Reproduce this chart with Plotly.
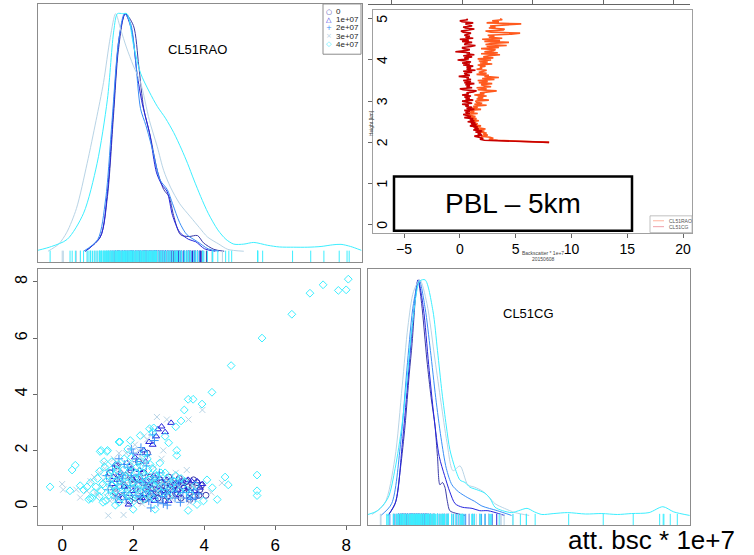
import plotly.graph_objects as go

W, H = 754, 555

SERIES = ["0", "1e+07", "2e+07", "3e+07", "4e+07"]
COLORS = ["#3B3BA8", "#2424DC", "#3A8EF6", "#B8D4E6", "#3CEEFF"]
SYMBOLS = ["circle-open", "triangle-up-open", "cross-thin-open", "x-thin-open", "diamond-open"]
LEGEND_GLYPHS = ["○", "△", "+", "×", "◇"]

# ---- scatter (CL51RAO on x, CL51CG on y), att. bsc * 1e+7 ----
S0_X = [1.35, 1.48, 1.55, 1.62, 1.7, 1.78, 1.84, 1.93, 2.0, 2.06, 2.12, 2.2, 2.27, 2.33, 2.41, 2.48, 2.55, 2.62, 2.7, 2.76,
        2.83, 2.9, 2.97, 3.05, 3.12, 3.2, 3.27, 3.35, 3.43, 3.5, 3.58, 3.66, 3.74, 3.8, 3.88, 3.92, 4.05, 2.15, 2.4, 1.9,
        2.2, 2.35, 2.5, 2.65, 2.8, 2.95, 3.1, 3.25, 3.4, 3.55, 3.7, 3.85, 3.6, 3.0, 2.6, 2.3, 1.95, 1.75, 1.6, 1.5,
        3.3, 2.9, 2.45, 3.15, 2.7]
S0_Y = [1.2, 0.65, 1.45, 0.9, 0.35, 1.1, 0.6, 1.3, 0.8, 0.3, 1.0, 0.55, 0.85, 0.25, 0.7, 1.05, 0.45, 0.8, 0.3, 0.95,
        0.55, 0.75, 0.35, 0.9, 0.6, 0.45, 0.8, 0.3, 0.65, 0.9, 0.5, 0.7, 0.35, 0.85, 0.6, 0.75, 0.4, 1.6, 1.9, 0.2,
        0.2, 0.45, 0.65, 0.5, 0.85, 0.65, 0.4, 0.6, 0.85, 0.7, 0.95, 0.4, 0.25, 1.05, 1.0, 1.2, 0.95, 0.75, 1.15, 0.5,
        1.0, 0.2, 0.35, 0.75, 0.6]

S1_X = [1.4, 1.5, 1.58, 1.66, 1.75, 1.82, 1.9, 1.98, 2.05, 2.1, 2.18, 2.25, 2.3, 2.38, 2.45, 2.5, 2.58, 2.65, 2.72,
        2.8, 2.85, 2.9, 2.95, 3.07, 3.1, 3.2, 3.3, 3.42, 3.55, 3.65, 3.72, 3.88, 3.95, 1.87, 2.6, 3.0, 1.6, 2.35,
        1.45, 1.7, 2.0, 2.15, 2.3, 2.45, 2.6, 2.75, 2.9, 3.05, 3.25, 3.5, 3.8, 3.6, 2.2, 2.55, 2.7, 1.95, 1.55, 3.35]
S1_Y = [0.8, 1.5, 0.4, 1.2, 0.7, 1.55, 0.45, 1.0, 1.75, 0.6, 1.3, 0.3, 2.0, 0.9, 2.3, 0.5, 1.1, 2.5, 0.7,
        2.85, 0.4, 2.65, 0.95, 2.98, 0.55, 0.85, 0.4, 0.7, 0.95, 0.9, 0.55, 0.67, 0.8, 0.07, 0.2, 0.2, 0.2, 1.6,
        1.05, 0.3, 0.55, 0.9, 0.45, 0.75, 0.35, 1.0, 0.55, 0.75, 0.6, 0.55, 0.9, 0.3, 1.9, 2.2, 2.75, 1.35, 0.95, 0.9]

S2_X = [1.3, 1.42, 1.5, 1.6, 1.68, 1.76, 1.85, 1.92, 2.0, 2.08, 2.15, 2.22, 2.3, 2.37, 2.44, 2.52, 2.6, 2.67, 2.74,
        2.82, 2.88, 2.96, 3.03, 3.1, 3.18, 3.25, 3.33, 3.4, 3.5, 3.62, 3.7, 3.85, 2.5, 2.85, 1.95, 2.55, 1.7, 2.25,
        1.35, 1.55, 1.8, 1.95, 2.05, 2.2, 2.35, 2.45, 2.65, 2.8, 2.95, 3.15, 3.3, 3.55, 3.75, 2.1, 2.4, 1.75, 1.25, 2.7]
S2_Y = [0.6, 1.3, 0.3, 1.7, 0.9, 0.5, 1.4, 0.75, 1.9, 0.4, 1.15, 2.1, 0.65, 1.45, 0.2, 0.95, 2.35, 0.55, 1.2,
        0.35, 0.8, 0.05, 0.6, 1.0, 0.3, 0.75, 0.15, 0.5, 0.3, 0.25, 0.6, 0.45, -0.05, 0.1, 2.05, 2.55, 1.1, 0.9,
        0.9, 0.65, 0.25, 1.1, 0.7, 0.35, 1.0, 0.55, 0.85, 0.6, 0.45, 0.55, 0.9, 0.5, 0.3, 1.6, 1.85, 1.5, 1.1, 0.15]

S3_X = [0.0, 0.03, 0.51, 0.8, 0.95, 1.05, 1.1, 1.18, 1.25, 1.3, 1.35, 1.45, 1.52, 1.6, 1.68, 1.73, 1.8, 1.88, 1.95, 2.05,
        2.12, 2.2, 2.3, 2.4, 2.5, 2.6, 2.67, 2.75, 2.85, 2.95, 3.05, 3.2, 3.35, 3.51, 3.56, 3.7, 3.95, 4.5, 4.2, 2.25,
        0.7, 0.9, 1.0, 1.15, 1.2, 1.3, 1.4, 1.5, 1.55, 1.65, 1.75, 1.85, 1.9, 2.0, 2.1, 2.2, 2.35, 2.45, 2.55, 2.7,
        2.8, 3.0, 3.1, 3.3, 3.6, 2.4, 2.15, 1.6, 1.35, 0.4]
S3_Y = [0.8, 0.6, 0.32, 0.9, 0.5, 1.2, 0.7, 1.55, 0.35, -0.32, 1.0, 1.7, 0.6, 1.3, 0.2, -0.3, 1.9, 0.9, 1.5, 2.2,
        0.5, 1.8, 2.5, 1.0, 2.75, 1.4, 3.19, 0.8, 2.0, 3.1, 0.6, 1.2, 0.3, 1.3, 3.1, 0.7, 3.44, 0.84, 0.5, 0.1,
        0.55, 1.05, 0.4, 0.95, 1.35, 0.65, 1.15, 0.3, 1.45, 0.85, 1.2, 0.45, 1.6, 0.75, 1.3, 0.6, 1.55, 0.35, 1.1, 0.55,
        1.7, 0.9, 0.25, 0.7, 0.15, 2.4, 2.0, 1.9, 0.2, 0.6]

S4_X = [0.9, 1.0, 1.05, 1.1, 1.15, 1.2, 1.22, 1.3, 1.35, 1.4, 1.45, 1.5, 1.55, 1.6, 1.65, 1.7, 1.75, 1.8, 1.85, 1.9,
        1.95, 2.0, 2.05, 2.1, 2.15, 2.2, 2.25, 2.3, 2.35, 2.4, 2.45, 2.5, 2.55, 2.6, 2.65, 2.75, 2.8, 2.9, 3.0, 3.1,
        3.2, 3.3, 3.45, 3.6, 3.75, 0.7, 0.75, 0.6, 1.28, 1.6, 2.58, 2.9, 2.55, 2.48, 2.2, 1.85,
        8.06, 7.35, 6.98, 7.78, 8.0, 6.47, 5.63, 4.76, 4.22, 3.94, 3.55, 3.69, 3.44, 3.35, 3.2, 5.49, 5.49, 5.49,
        4.68, 4.59, 4.23, 4.08, 4.37, 3.98, 3.8, 3.55, -0.34, 0.28, 0.37, 0.22, 0.51, 1.07, 1.26, 1.63, 1.92, 2.2,
        2.46, 3.0, 3.23, 3.23, 2.62, 2.0, 0.79,
        0.8, 0.95, 1.05, 1.1, 1.18, 1.25, 1.32, 1.38, 1.42, 1.48, 1.52, 1.58, 1.62, 1.68, 1.72, 1.78, 1.82, 1.88,
        1.92, 1.98, 2.02, 2.08, 2.12, 2.18, 2.22, 2.28, 2.32, 2.38, 2.42, 2.52, 2.58, 2.62, 2.7, 2.78, 2.85, 2.95,
        3.05, 3.15, 3.35, 3.5, 1.15, 1.5, 0.85, 1.95, 2.3]
S4_Y = [0.5, 1.0, 0.35, 2.0, 0.8, 1.4, 0.2, 1.1, 0.6, 1.6, 0.4, 0.9, 1.3, 0.15, 0.7, 1.05, 1.7, 0.5, 0.85, 1.25,
        0.3, 0.65, 1.0, 1.4, 0.45, 0.8, 1.2, 0.25, 0.6, 1.7, 0.95, 0.4, 1.35, 0.7, 1.05, 1.55, 0.5, 1.2, 0.35, 0.8,
        1.1, 0.55, 0.9, 0.45, 0.75, 0.7, 0.25, 0.6, 2.0, 2.3, 2.8, 2.5, 2.65, 1.5, 1.6, 2.05,
        8.1, 7.9, 7.6, 7.7, 7.72, 6.85, 6.0, 5.02, 4.07, 3.65, 3.82, 3.82, 3.44, 3.05, 2.84, 1.12, 0.56, 0.39,
        0.77, 1.05, 0.67, 0.95, 0.25, 0.2, 0.07, -0.14, 0.7, 1.3, 1.47, 0.56, 0.74, 1.96, 1.96, 2.3, 2.35, 2.53,
        2.77, 2.27, 2.0, 1.82, -0.1, -0.1, 0.3,
        0.85, 0.7, 1.25, 0.55, 1.6, 0.9, 0.4, 1.3, 0.75, 1.1, 0.55, 1.5, 0.9, 0.3, 1.3, 0.65, 1.05, 0.4,
        1.45, 0.85, 0.2, 1.2, 0.6, 1.0, 1.45, 0.75, 1.1, 0.45, 1.3, 0.8, 0.3, 1.15, 0.9, 1.2, 0.7, 1.0,
        0.6, 0.9, 1.0, 0.6, 0.15, 0.05, 0.3, 1.75, 1.9]

SCAT_X = [S0_X, S1_X, S2_X, S3_X, S4_X]
SCAT_Y = [S0_Y, S1_Y, S2_Y, S3_Y, S4_Y]

# ---- density curves (normalised), CL51RAO panel ----
RAO_DX = [
    [0.65, 1.07, 1.27, 1.44, 1.58, 1.77, 2.0, 2.15, 2.29, 2.48, 2.67, 2.85, 3.0, 3.13, 3.32, 3.56, 3.8, 3.97, 4.26, 4.55],
    [0.65, 1.07, 1.27, 1.44, 1.6, 1.77, 1.95, 2.1, 2.25, 2.45, 2.65, 2.8, 2.95, 3.1, 3.3, 3.55, 3.75, 4.0, 4.3],
    [0.6, 1.0, 1.22, 1.4, 1.58, 1.75, 1.92, 2.05, 2.2, 2.35, 2.55, 2.75, 2.95, 3.1, 3.3, 3.5, 3.8, 4.1, 4.4],
    [-0.4, -0.1, 0.13, 0.4, 0.7, 0.95, 1.16, 1.35, 1.5, 1.65, 1.8, 2.0, 2.2, 2.45, 2.67, 2.85, 3.04, 3.3, 3.6,
     3.85, 4.08, 4.4, 4.65, 5.1],
    [-0.68, -0.3, 0.14, 0.6, 0.98, 1.27, 1.45, 1.55, 1.7, 1.82, 2.0, 2.2, 2.45, 2.67, 2.9, 3.13, 3.35, 3.52, 3.7,
     3.89, 4.1, 4.37, 4.6, 4.82, 5.1, 5.38, 5.77, 6.1, 6.5, 6.9, 7.27, 7.6, 7.83, 8.1, 8.4],
]
RAO_DY = [
    [0.0, 0.06, 0.23, 0.57, 0.85, 1.0, 0.95, 0.78, 0.6, 0.48, 0.34, 0.26, 0.23, 0.15, 0.07, 0.062, 0.066, 0.035, 0.008, 0.0],
    [0.0, 0.06, 0.25, 0.6, 0.9, 1.0, 0.93, 0.75, 0.62, 0.5, 0.33, 0.28, 0.25, 0.15, 0.08, 0.05, 0.04, 0.01, 0.0],
    [0.0, 0.05, 0.22, 0.55, 0.88, 1.0, 0.96, 0.82, 0.6, 0.53, 0.42, 0.3, 0.26, 0.2, 0.12, 0.07, 0.04, 0.01, 0.0],
    [0.0, 0.03, 0.08, 0.18, 0.37, 0.55, 0.71, 0.9, 1.0, 0.93, 0.86, 0.78, 0.71, 0.55, 0.44, 0.34, 0.27, 0.2, 0.145,
     0.1, 0.06, 0.03, 0.008, 0.0],
    [0.004, 0.02, 0.05, 0.16, 0.37, 0.64, 0.93, 1.0, 1.0, 1.0, 0.87, 0.75, 0.67, 0.61, 0.56, 0.5, 0.43, 0.37, 0.3,
     0.23, 0.16, 0.09, 0.05, 0.03, 0.03, 0.037, 0.025, 0.018, 0.017, 0.017, 0.02, 0.027, 0.029, 0.02, 0.004],
]

# ---- density curves (normalised), CL51CG panel ----
CG_DX = [
    [-0.1, 0.1, 0.25, 0.38, 0.5, 0.58, 0.68, 0.75, 0.85, 1.0, 1.12, 1.23, 1.3, 1.37, 1.44, 1.51, 1.58, 1.65, 1.8, 2.08],
    [-0.1, 0.12, 0.3, 0.45, 0.6, 0.75, 0.9, 1.05, 1.2, 1.35, 1.5, 1.65, 1.8, 2.0, 2.28, 2.5, 2.73, 3.2],
    [-0.3, 0.0, 0.25, 0.45, 0.62, 0.78, 0.95, 1.1, 1.25, 1.4, 1.55, 1.71, 1.9, 2.16, 2.35, 2.56, 3.0, 3.4],
    [-0.56, -0.2, 0.09, 0.3, 0.46, 0.62, 0.8, 1.0, 1.23, 1.4, 1.57, 1.74, 1.94, 2.16, 2.35, 2.56, 2.75, 2.93, 3.2,
     3.5, 3.9],
    [-0.67, -0.4, -0.1, 0.1, 0.29, 0.45, 0.58, 0.8, 0.95, 1.17, 1.3, 1.43, 1.55, 1.65, 1.8, 1.94, 2.08, 2.22, 2.4,
     2.64, 2.8, 2.93, 3.15, 3.41, 3.6, 3.84, 4.05, 4.26, 4.6, 4.99, 5.5, 5.96, 6.4, 6.8, 7.3, 7.69, 8.0, 8.45],
]
CG_DY = [
    [0.0, 0.05, 0.2, 0.38, 0.6, 0.73, 0.93, 1.0, 0.9, 0.66, 0.5, 0.38, 0.25, 0.13, 0.14, 0.12, 0.06, 0.02, 0.01, 0.0],
    [0.0, 0.06, 0.3, 0.55, 0.82, 1.0, 0.88, 0.64, 0.42, 0.25, 0.17, 0.1, 0.05, 0.035, 0.03, 0.02, 0.02, 0.0],
    [0.0, 0.05, 0.3, 0.65, 0.9, 1.0, 0.88, 0.7, 0.5, 0.33, 0.2, 0.13, 0.1, 0.075, 0.06, 0.04, 0.02, 0.0],
    [0.004, 0.05, 0.24, 0.55, 0.8, 0.95, 1.0, 0.9, 0.66, 0.48, 0.31, 0.19, 0.21, 0.13, 0.12, 0.105, 0.08, 0.05, 0.03,
     0.012, 0.0],
    [0.004, 0.02, 0.075, 0.2, 0.38, 0.6, 0.8, 0.995, 1.0, 0.87, 0.7, 0.52, 0.38, 0.28, 0.2, 0.15, 0.14, 0.12, 0.11,
     0.095, 0.07, 0.035, 0.02, 0.012, 0.02, 0.03, 0.015, 0.004, 0.008, 0.012, 0.006, 0.008, 0.004, 0.008, 0.012,
     0.037, 0.015, 0.0],
]

# ---- backscatter profile, 20150608 ----
PROFILE_HEIGHT = [
    2.000, 2.025, 2.050, 2.075, 2.100, 2.125, 2.150, 2.175, 2.200, 2.225,
    2.250, 2.275, 2.300, 2.325, 2.350, 2.375, 2.400, 2.425, 2.450, 2.475,
    2.500, 2.525, 2.550, 2.575, 2.600, 2.625, 2.650, 2.675, 2.700, 2.725,
    2.750, 2.775, 2.800, 2.825, 2.850, 2.875, 2.900, 2.925, 2.950, 2.975,
    3.000, 3.025, 3.050, 3.075, 3.100, 3.125, 3.150, 3.175, 3.200, 3.225,
    3.250, 3.275, 3.300, 3.325, 3.350, 3.375, 3.400, 3.425, 3.450, 3.475,
    3.500, 3.525, 3.550, 3.575, 3.600, 3.625, 3.650, 3.675, 3.700, 3.725,
    3.750, 3.775, 3.800, 3.825, 3.850, 3.875, 3.900, 3.925, 3.950, 3.975,
    4.000, 4.025, 4.050, 4.075, 4.100, 4.125, 4.150, 4.175, 4.200, 4.225,
    4.250, 4.275, 4.300, 4.325, 4.350, 4.375, 4.400, 4.425, 4.450, 4.475,
    4.500, 4.525, 4.550, 4.575, 4.600, 4.625, 4.650, 4.675, 4.700, 4.725,
    4.750, 4.775, 4.800, 4.825, 4.850, 4.875, 4.900, 4.925, 4.950, 4.975,
    5.000]
PROFILE_RAO = [
    8.0, 5.5, 3.4, 2.6, 3.0, 2.7, 1.9, 2.5, 2.1, 2.4,
    1.6, 2.2, 1.5, 2.3, 1.8, 1.2, 1.9, 1.1, 1.6, 1.3,
    1.0, 1.7, 1.2, 1.5, 0.8, 1.4, 1.1, 0.6, 1.6, 0.9,
    1.3, 0.8, 1.9, 1.1, 1.6, 1.2, 2.4, 1.3, 2.0, 1.5,
    1.4, 2.6, 1.5, 2.1, 1.6, 2.4, 1.3, 2.2, 1.8, 2.7,
    3.3, 1.6, 2.4, 1.5, 2.8, 2.2, 1.9, 2.9, 1.7, 2.5,
    1.6, 3.1, 2.0, 3.5, 2.2, 2.6, 1.5, 2.4, 1.7, 2.1,
    2.4, 1.5, 2.0, 1.8, 2.3, 1.6, 2.9, 1.8, 2.5, 1.7,
    2.8, 1.6, 3.0, 2.1, 2.6, 3.6, 1.9, 3.4, 2.2, 3.0,
    3.2, 1.9, 3.5, 2.4, 4.2, 2.3, 2.8, 4.4, 2.2, 3.6,
    2.0, 3.8, 2.6, 3.1, 2.5, 4.6, 5.4, 2.8, 2.3, 3.9,
    4.0, 2.6, 3.2, 2.7, 4.3, 5.5, 2.4, 3.5, 2.9, 3.8,
    3.6]
PROFILE_CG = [
    8.0, 4.0, 2.2, 1.8, 2.1, 1.7, 1.3, 2.0, 1.6, 1.9,
    1.4, 2.0, 1.2, 1.7, 1.3, 1.6, 0.9, 1.5, 1.0, 1.4,
    0.7, 1.3, 0.9, 1.2, 0.4, 1.0, 0.6, 0.3, 0.9, 0.5,
    0.9, 0.4, 1.3, 0.6, 1.1, 0.5, 0.8, 0.2, 1.1, 0.6,
    0.2, 1.2, 0.5, 0.9, 0.4, 1.0, 0.2, 0.8, 0.6, 1.2,
    1.5, 0.3, 0.0, 1.1, 0.6, 0.9, 0.5, 1.3, 0.4, 1.0,
    0.3, 1.0, 0.6, 0.8, -0.1, 0.9, 0.5, 0.4, 1.1, 0.3,
    1.4, 0.6, 1.0, 0.6, 1.2, 0.3, 0.9, 0.2, 1.0, 0.5,
    -0.2, 0.8, 0.4, 1.1, 0.3, 1.3, 0.6, 0.9, -0.4, 0.5,
    0.9, 0.3, 0.2, 1.0, 1.4, 0.4, 0.5, 1.1, 0.2, 0.8,
    0.0, 1.2, 0.5, 0.9, 0.4, 0.7, 1.0, 0.3, 0.1, 0.8,
    1.3, 0.5, 0.3, 1.1, 0.7, 0.5, 1.2, 0.2, 0.0, 0.7,
    0.6]
PROFILE_NAMES = ["CL51RAO", "CL51CG"]
PROFILE_COLORS = ["#FF5A1E", "#C80000"]
PROFILE_LEGEND_COLORS = ["#FFB4A0", "#F0A0A8"]

X_TICKS_SCAT = [0, 2, 4, 6, 8]
X_TICKS_PROF = [-5, 0, 5, 10, 15, 20]
Y_TICKS_PROF = [0, 1, 2, 3, 4, 5]


def fx(p):
    return p / W


def fy(p):
    return 1 - p / H


FONT = "Liberation Sans, Arial, sans-serif"
FRAME = "#8C8C8C"

fig = go.Figure()

# top-left densities + rug (x variable)
for i in range(5):
    fig.add_trace(go.Scatter(x=RAO_DX[i], y=RAO_DY[i], mode="lines",
                             line=dict(color=COLORS[i], width=1, shape="spline", smoothing=0.8),
                             xaxis="x", yaxis="y", hoverinfo="skip"))
for i in range(5):
    fig.add_trace(go.Scatter(x=SCAT_X[i], y=[-0.027] * len(SCAT_X[i]), mode="markers",
                             marker=dict(symbol="line-ns", size=10, line=dict(color=COLORS[i], width=1)),
                             xaxis="x", yaxis="y", hoverinfo="skip"))

# profile
for i, vals in enumerate([PROFILE_RAO, PROFILE_CG]):
    fig.add_trace(go.Scatter(x=vals, y=PROFILE_HEIGHT, mode="lines", line=dict(color=PROFILE_COLORS[i], width=1.6),
                             xaxis="x2", yaxis="y2", name=PROFILE_NAMES[i]))

# scatter
for i in range(5):
    fig.add_trace(go.Scatter(x=SCAT_X[i], y=SCAT_Y[i], mode="markers",
                             marker=dict(symbol=SYMBOLS[i], size=6, color=COLORS[i],
                                         line=dict(color=COLORS[i], width=1)),
                             xaxis="x3", yaxis="y3", name=SERIES[i]))

# bottom-right densities + rug (y variable)
for i in range(5):
    fig.add_trace(go.Scatter(x=CG_DX[i], y=CG_DY[i], mode="lines",
                             line=dict(color=COLORS[i], width=1, shape="spline", smoothing=0.8),
                             xaxis="x4", yaxis="y4", hoverinfo="skip"))
for i in range(5):
    fig.add_trace(go.Scatter(x=SCAT_Y[i], y=[-0.023] * len(SCAT_Y[i]), mode="markers",
                             marker=dict(symbol="line-ns", size=10, line=dict(color=COLORS[i], width=1)),
                             xaxis="x4", yaxis="y4", hoverinfo="skip"))

# dummy for the top axis of the pairs layout
fig.add_trace(go.Scatter(x=[None], y=[None], xaxis="x5", yaxis="y4", showlegend=False))


def frame_axis(**kw):
    d = dict(showline=True, mirror=True, linecolor=FRAME, linewidth=1, showgrid=False, zeroline=False,
             ticks="", showticklabels=False, ticklabeloverflow="allow")
    d.update(kw)
    return d


fig.update_layout(
    width=W, height=H, autosize=False, margin=dict(l=0, r=0, t=0, b=0),
    paper_bgcolor="white", plot_bgcolor="white", showlegend=False,
    font=dict(family=FONT, color="black"),
    xaxis=frame_axis(domain=[fx(38), fx(362)], range=[-0.68, 8.42], anchor="y"),
    yaxis=frame_axis(domain=[fy(266), fy(4)], range=[-0.046, 1.041], anchor="x"),
    xaxis2=frame_axis(domain=[fx(373), fx(692)], range=[-7.78, 20.8], anchor="y2", linecolor="#A0A0A0",
                      ticks="outside", ticklen=4, tickcolor="#666", showticklabels=True, tickvals=X_TICKS_PROF,
                      tickfont=dict(size=14, family=FONT)),
    yaxis2=frame_axis(domain=[fy(236), fy(10)], range=[-0.19, 5.215], anchor="x2", linecolor="#A0A0A0",
                      ticks="outside", ticklen=4, tickcolor="#666", showticklabels=False, tickvals=Y_TICKS_PROF),
    xaxis3=frame_axis(domain=[fx(38), fx(360)], range=[-0.68, 8.39], anchor="y3",
                      ticks="outside", ticklen=4, tickcolor="#666", showticklabels=True, tickvals=X_TICKS_SCAT,
                      tickfont=dict(size=17, family=FONT)),
    yaxis3=frame_axis(domain=[fy(533), fy(273)], range=[-0.67, 8.46], anchor="x3",
                      ticks="outside", ticklen=4, tickcolor="#666", showticklabels=True, tickvals=X_TICKS_SCAT,
                      tickangle=-90, tickfont=dict(size=16, family=FONT)),
    xaxis4=frame_axis(domain=[fx(368), fx(690)], range=[-0.67, 8.46], anchor="y4"),
    yaxis4=frame_axis(domain=[fy(533), fy(273)], range=[-0.042, 1.046], anchor="x4"),
    xaxis5=dict(overlaying="x4", anchor="free", position=fy(4), side="top", range=[-0.67, 8.46],
                showline=True, linecolor="#666", linewidth=1, ticks="outside", ticklen=4, tickcolor="#666",
                tickvals=X_TICKS_SCAT, showticklabels=False, showgrid=False, zeroline=False),
)

shapes = []
ann = []

# profile height tick labels (rotated, placed at the y2 tick values)
for v in Y_TICKS_PROF:
    ann.append(dict(text=str(v), x=fx(382), y=v, xref="paper", yref="y2", showarrow=False, textangle=-90,
                    xanchor="center", yanchor="middle", font=dict(size=14, family=FONT, color="black")))

# PBL box
shapes.append(dict(type="rect", xref="paper", yref="paper", x0=fx(394), x1=fx(632), y0=fy(234), y1=fy(179),
                   line=dict(color="black", width=2.5), fillcolor="white", layer="above"))
ann.append(dict(text="PBL – 5km", x=fx(513), y=fy(206), xref="paper", yref="paper", showarrow=False,
                font=dict(size=28, family=FONT, color="black"), xanchor="center", yanchor="middle"))

# profile mini legend
shapes.append(dict(type="rect", xref="paper", yref="paper", x0=fx(650), x1=fx(692), y0=fy(236), y1=fy(219),
                   line=dict(color="#B0B0B0", width=0.8), fillcolor="white", layer="above"))
for k, nm in enumerate(PROFILE_NAMES):
    yy = 224 + k * 6
    shapes.append(dict(type="line", xref="paper", yref="paper", x0=fx(653), x1=fx(664), y0=fy(yy), y1=fy(yy),
                       line=dict(color=PROFILE_LEGEND_COLORS[k], width=1), layer="above"))
    ann.append(dict(text=nm, x=fx(667), y=fy(yy), xref="paper", yref="paper", showarrow=False, xanchor="left",
                    yanchor="middle", font=dict(size=5, family=FONT, color="#555")))

# profile axis titles
ann.append(dict(text="Backscatter * 1e+7", x=fx(543), y=fy(257), xref="paper", yref="paper", showarrow=False,
                font=dict(size=5, family=FONT, color="#444"), xanchor="center", yanchor="middle"))
ann.append(dict(text="20150608", x=fx(543), y=fy(263), xref="paper", yref="paper", showarrow=False,
                font=dict(size=5, family=FONT, color="#444"), xanchor="center", yanchor="middle"))
ann.append(dict(text="Height [km]", x=fx(371), y=fy(125), xref="paper", yref="paper", showarrow=False, textangle=-90,
                font=dict(size=5, family=FONT, color="#444"), xanchor="center", yanchor="middle"))

# top-left legend
shapes.append(dict(type="rect", xref="paper", yref="paper", x0=fx(323), x1=fx(361), y0=fy(55), y1=fy(4),
                   line=dict(color=FRAME, width=1), fillcolor="white", layer="above"))
for k, nm in enumerate(SERIES):
    yy = 12 + k * 8.2
    ann.append(dict(text=LEGEND_GLYPHS[k], x=fx(329), y=fy(yy), xref="paper", yref="paper", showarrow=False,
                    xanchor="center", yanchor="middle", font=dict(size=7, family="DejaVu Sans", color=COLORS[k])))
    ann.append(dict(text=nm, x=fx(334), y=fy(yy), xref="paper", yref="paper", showarrow=False,
                    xanchor="left", yanchor="middle", font=dict(size=8, family=FONT, color="#222")))

# panel labels
ann.append(dict(text="CL51RAO", x=fx(198), y=fy(50), xref="paper", yref="paper", showarrow=False,
                xanchor="center", yanchor="middle", font=dict(size=13, family=FONT, color="black")))
ann.append(dict(text="CL51CG", x=fx(528), y=fy(318), xref="paper", yref="paper", showarrow=False,
                xanchor="center", yanchor="middle", font=dict(size=13, family=FONT, color="black")))
ann.append(dict(text="att. bsc * 1e+7", x=fx(651), y=fy(548), xref="paper", yref="paper", showarrow=False,
                font=dict(size=26, family=FONT, color="black"), xanchor="center", yanchor="middle"))

fig.update_layout(shapes=shapes, annotations=ann)
fig.write_html("out.html")
